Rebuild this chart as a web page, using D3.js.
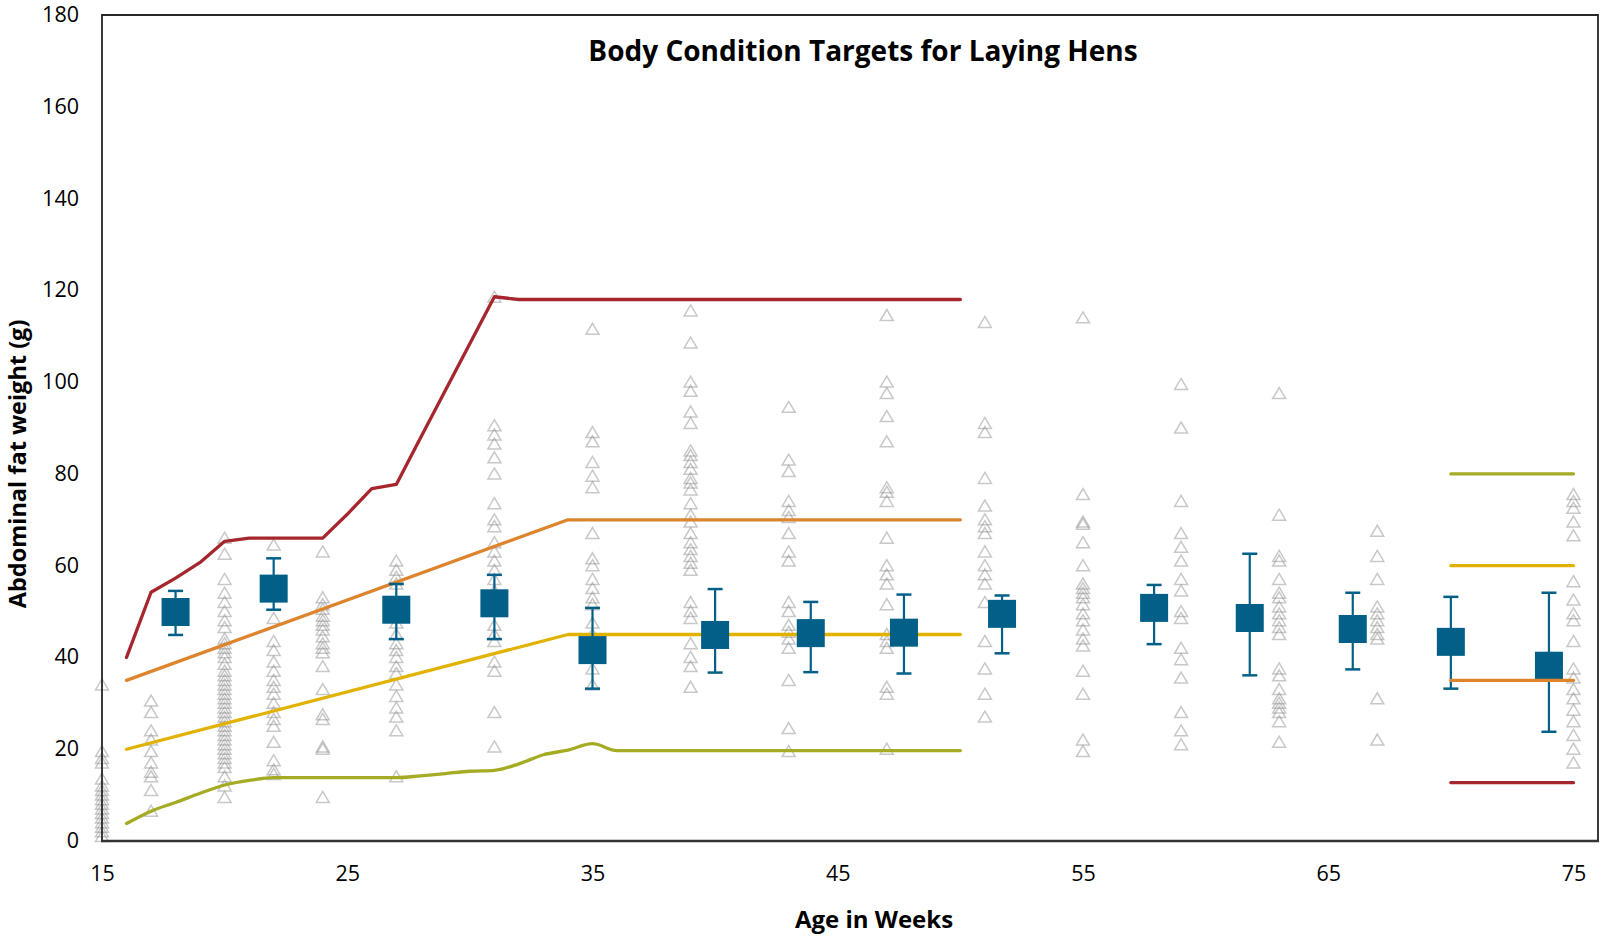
<!DOCTYPE html>
<html>
<head>
<meta charset="utf-8">
<script src="https://cdn.jsdelivr.net/npm/d3@7"></script>
<style>
  html, body { margin: 0; padding: 0; background: #fff; }
  svg { display: block; }
  text { font-family: "Open Sans", "Noto Sans", sans-serif; fill: #000; }
</style>
</head>
<body>
<svg id="chart" width="1601" height="937"></svg>
<script>
// ---------------- DATA ----------------
const title = "Body Condition Targets for Laying Hens";
const xTitle = "Age in Weeks";
const yTitle = "Abdominal fat weight (g)";
const xTicks = [15, 25, 35, 45, 55, 65, 75];
const yTicks = [0, 20, 40, 60, 80, 100, 120, 140, 160, 180];

// target curves (weeks 16-50)
const redWeeks = [16, 17, 18, 19, 20, 21, 24, 25, 26, 27, 28, 31, 32, 50];
const redValues = [40, 54.2, 57.3, 60.7, 65.3, 66, 66, 71.2, 76.8, 77.7, 88, 118.6, 118, 118];
const orangeWeeks = [16, 34, 50];
const orangeValues = [35, 70, 70];
const yellowWeeks = [16, 34, 50];
const yellowValues = [20, 45, 45];
const greenWeeks = [16, 17, 18, 19, 20, 21, 22, 27, 28, 29, 30, 31, 32, 33, 34, 35, 36, 50];
const greenValues = [3.8, 6.5, 8.4, 10.4, 12.2, 13.2, 13.8, 13.8, 14.2, 14.7, 15.2, 15.4, 16.8, 18.8, 19.8, 21.2, 19.7, 19.7];

// late targets (weeks 70-75)
const lateWeeks = [70, 75];
const lateGreen = [80, 80];
const lateYellow = [60, 60];
const lateOrange = [35, 35];
const lateRed = [12.7, 12.7];

// flock means with error bars
const meanWeeks = [18, 22, 27, 31, 35, 40, 43.9, 47.7, 51.7, 57.9, 61.8, 66, 70, 74];
const meanValues = [49.9, 55.0, 50.4, 51.8, 41.6, 44.9, 45.3, 45.4, 49.5, 50.8, 48.6, 46.2, 43.4, 38.2];
const errHigh = [54.5, 61.6, 56.0, 58.0, 50.8, 54.9, 52.1, 53.7, 53.5, 55.8, 62.6, 54.1, 53.2, 54.1];
const errLow = [44.9, 50.4, 44.0, 44.0, 33.2, 36.7, 36.8, 36.5, 40.9, 42.9, 36.1, 37.4, 33.2, 23.8];

// individual birds
const birdWeeks = [15, 17, 20, 22, 24, 27, 31, 35, 39, 43, 47, 51, 55, 59, 63, 67, 75];
const birdValues = [
  [34, 19.5, 18, 17, 13.5, 12, 11, 10, 9, 8, 7, 6, 5, 4, 3, 2, 1],
  [30.5, 28, 24, 22, 19.5, 17, 15, 14, 11, 6.5],
  [66, 62.5, 57, 54, 52, 50, 48, 46.5, 44, 43, 42, 41, 40, 38.5, 37, 36, 35, 34, 33, 32, 31, 30, 29, 28, 27, 26, 25, 24, 23, 22, 21, 20, 19, 18, 17, 16, 14, 12, 9.5],
  [64.5, 48.5, 43.5, 41.5, 39, 37, 35, 33.5, 32, 30, 28, 26.5, 25, 21.5, 17.5, 15.5, 14.5],
  [63, 53, 51.5, 50.5, 49, 48, 47, 46, 44.5, 43, 42, 41, 38, 33, 27.5, 26.5, 20.5, 20, 9.5],
  [61, 59, 57.5, 56, 50, 47.5, 45, 43, 41.5, 40, 38, 36.5, 34, 31.5, 29, 27, 24, 14],
  [118.5, 90.5, 88.5, 86.5, 83.5, 80, 73.5, 70, 68.5, 65, 63, 61, 59, 57, 54.5, 47, 45, 43.5, 39, 37, 28, 20.5],
  [111.5, 89, 87, 82.5, 79.5, 77, 67, 61.5, 60, 57, 55, 53, 51.5, 47.5, 45, 41, 37.5, 34],
  [115.5, 108.5, 100, 98, 93.5, 91, 85, 84, 82.5, 81, 79, 78, 76.5, 73.5, 71, 69.5, 67, 65, 63.5, 62, 60.5, 59, 52, 50, 48.5, 43, 40, 38, 33.5],
  [94.5, 83, 80.5, 74, 72, 70.5, 67, 63, 61, 52, 50, 47, 45.5, 44, 42, 35, 24.5, 19.5],
  [114.5, 100, 97.5, 92.5, 87, 77, 76, 74, 66, 60, 58, 56, 51.5, 45, 43.5, 42, 33.5, 32, 20],
  [113, 91, 89, 79, 73, 70, 68.5, 67, 63, 60, 58, 56, 52, 43.5, 37.5, 32, 27],
  [114, 75.5, 69.5, 69, 65, 60, 56, 55, 54, 53, 51.5, 49.5, 48, 46, 44, 42.5, 37, 32, 22, 19.5],
  [99.5, 90, 74, 67, 64, 61, 57, 54.5, 50, 48.5, 42, 39.5, 35.5, 28, 24, 21],
  [97.5, 71, 62, 61, 57, 54, 53, 51, 49.5, 48, 46.5, 45, 37.5, 36, 33, 31, 30, 29, 28, 26, 21.5],
  [67.5, 62, 57, 51, 49.5, 48, 46.5, 45, 44, 31, 22],
  [75.5, 74, 72.5, 69.5, 66.5, 56.5, 52.5, 49.5, 48, 43.5, 37.5, 35.5, 33, 31, 28.5, 26, 23, 20, 17]
];

// ---------------- DRAWING ----------------
const svg = d3.select("#chart");
const plot = { left: 102, right: 1598, top: 15, bottom: 841 };

const x = d3.scaleLinear().domain([15, 76]).range([plot.left, plot.right]);
const y = d3.scaleLinear().domain([0, 180]).range([plot.bottom, plot.top]);

const colors = {
  red: "#a6262d",
  orange: "#dd842c",
  yellow: "#e2b200",
  green: "#a5ac24",
  blue: "#015f88",
  bird: "rgb(140,140,140)"
};

// birds (hollow triangles)
const birds = [];
birdWeeks.forEach((w, i) => birdValues[i].forEach(v => birds.push({ w, v })));
const triPath = "M0,-6 L6.5,5 L-6.5,5 Z";
svg.append("g").selectAll("path").data(birds).join("path")
  .attr("d", triPath)
  .attr("transform", d => `translate(${x(d.w)},${y(d.v)})`)
  .attr("fill", "none")
  .attr("stroke", colors.bird)
  .attr("stroke-opacity", 0.48)
  .attr("stroke-width", 1.5);

// target curves
const line = d3.line().x(d => x(d[0])).y(d => y(d[1])).curve(d3.curveMonotoneX);
const lineLin = d3.line().x(d => x(d[0])).y(d => y(d[1]));
function drawLine(weeks, values, color, gen) {
  svg.append("path")
    .datum(weeks.map((w, i) => [w, values[i]]))
    .attr("d", gen)
    .attr("fill", "none")
    .attr("stroke", color)
    .attr("stroke-width", 3.3)
    .attr("stroke-linejoin", "round")
    .attr("stroke-linecap", "round");
}
drawLine(redWeeks, redValues, colors.red, lineLin);
drawLine(orangeWeeks, orangeValues, colors.orange, lineLin);
drawLine(yellowWeeks, yellowValues, colors.yellow, lineLin);
drawLine(greenWeeks, greenValues, colors.green, line);

// means with error bars
const means = meanWeeks.map((w, i) => ({ w, v: meanValues[i], hi: errHigh[i], lo: errLow[i] }));
const mg = svg.append("g");
const capW = 15, box = 28;
mg.selectAll("line.stem").data(means).join("line")
  .attr("x1", d => x(d.w)).attr("x2", d => x(d.w))
  .attr("y1", d => y(d.hi)).attr("y2", d => y(d.lo))
  .attr("stroke", colors.blue).attr("stroke-width", 2.2);
mg.selectAll("line.capT").data(means).join("line")
  .attr("x1", d => x(d.w) - capW / 2).attr("x2", d => x(d.w) + capW / 2)
  .attr("y1", d => y(d.hi)).attr("y2", d => y(d.hi))
  .attr("stroke", colors.blue).attr("stroke-width", 2.5);
mg.selectAll("line.capB").data(means).join("line")
  .attr("x1", d => x(d.w) - capW / 2).attr("x2", d => x(d.w) + capW / 2)
  .attr("y1", d => y(d.lo)).attr("y2", d => y(d.lo))
  .attr("stroke", colors.blue).attr("stroke-width", 2.5);
mg.selectAll("rect").data(means).join("rect")
  .attr("x", d => x(d.w) - box / 2).attr("y", d => y(d.v) - box / 2)
  .attr("width", box).attr("height", box)
  .attr("fill", colors.blue);

// late targets
drawLine(lateWeeks, lateGreen, colors.green, lineLin);
drawLine(lateWeeks, lateYellow, colors.yellow, lineLin);
drawLine(lateWeeks, lateOrange, colors.orange, lineLin);
drawLine(lateWeeks, lateRed, colors.red, lineLin);

// frame
svg.append("path")
  .attr("d", `M${plot.left},${plot.bottom} L${plot.left},${plot.top} L${plot.right},${plot.top} L${plot.right},${plot.bottom}`)
  .attr("fill", "none").attr("stroke", "#262626").attr("stroke-width", 1.8);
svg.append("line")
  .attr("x1", plot.left - 1).attr("x2", plot.right + 1)
  .attr("y1", plot.bottom).attr("y2", plot.bottom)
  .attr("stroke", "#333").attr("stroke-width", 2.6);

// axes
const yAxis = d3.axisLeft(y).tickValues(yTicks).tickSize(0).tickPadding(23).tickFormat(d3.format("d"));
const gy = svg.append("g").attr("transform", `translate(${plot.left},0)`).call(yAxis);
gy.select(".domain").remove();
gy.selectAll("text").attr("font-size", 21.5).attr("font-family", "Open Sans").attr("dy", "0.3em").attr("fill", "#000");

const xAxis = d3.axisBottom(x).tickValues(xTicks).tickSize(0).tickPadding(25).tickFormat(d3.format("d"));
const gx = svg.append("g").attr("transform", `translate(0,${plot.bottom})`).call(xAxis);
gx.select(".domain").remove();
gx.selectAll("text").attr("font-size", 21.5).attr("font-family", "Open Sans").attr("fill", "#000");

// titles
svg.append("text").attr("x", 863).attr("y", 61)
  .attr("text-anchor", "middle").attr("font-size", 28).attr("font-weight", "bold")
  .text(title);
svg.append("text").attr("x", 874).attr("y", 928)
  .attr("text-anchor", "middle").attr("font-size", 24).attr("font-weight", "bold")
  .text(xTitle);
svg.append("text")
  .attr("transform", "translate(26,464) rotate(-90)")
  .attr("text-anchor", "middle").attr("font-size", 23.5).attr("font-weight", "bold")
  .text(yTitle);
</script>
</body>
</html>
